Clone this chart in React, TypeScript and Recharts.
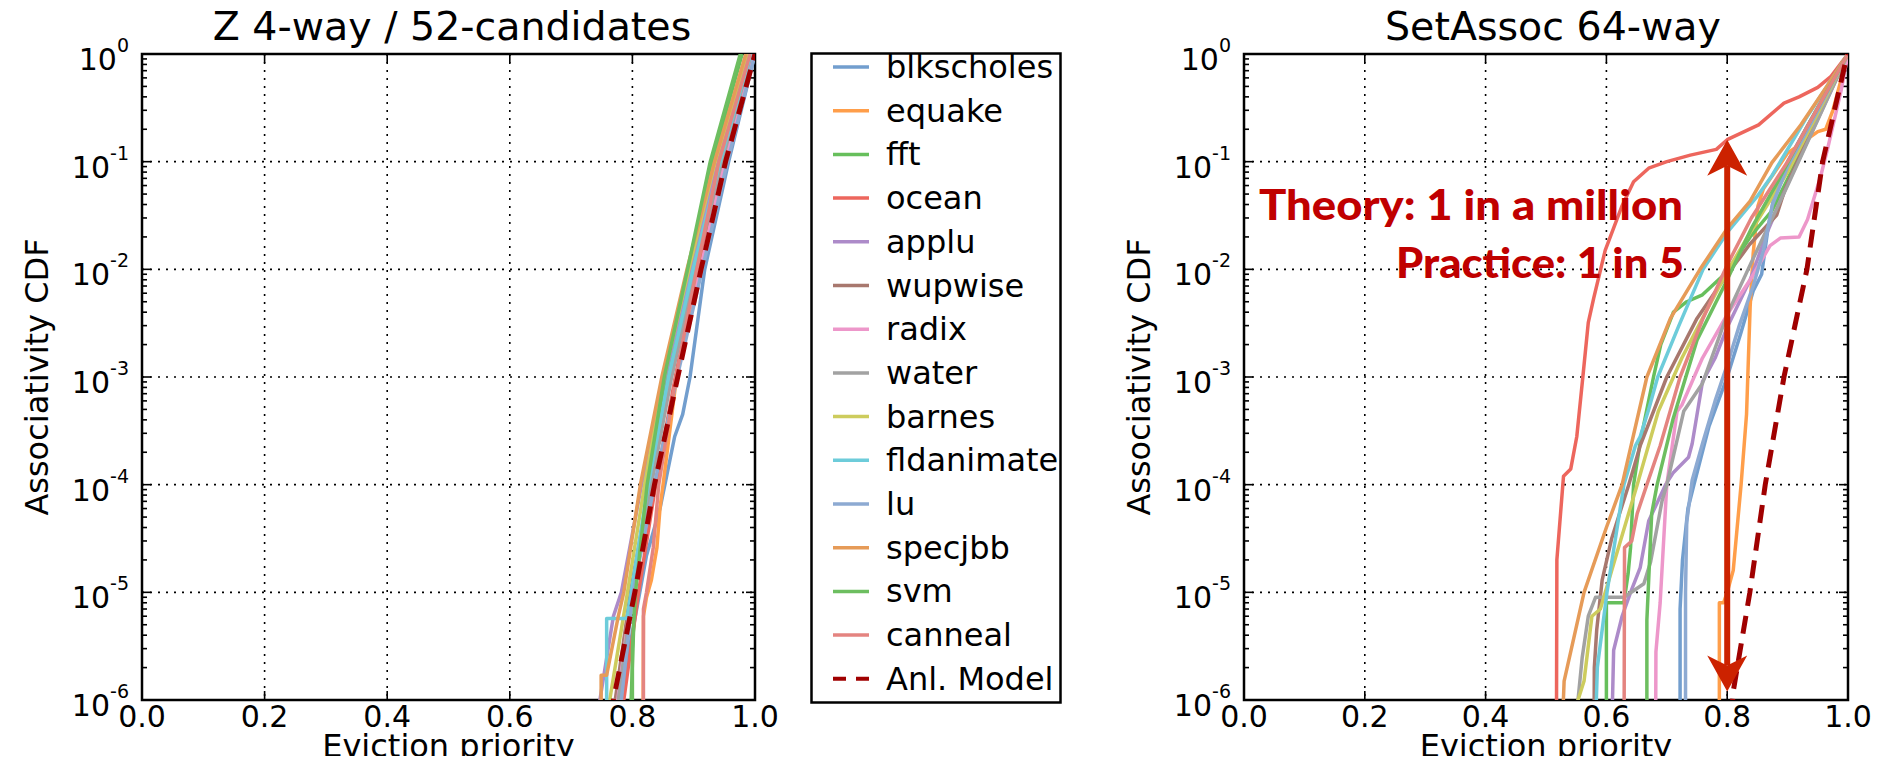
import React from "react";
import { LineChart, Line, XAxis, YAxis, CartesianGrid, ReferenceLine, ReferenceArea } from "recharts";

type Pt = [number, number];

const FONT = "DejaVu Sans";

const BENCHMARKS = [
  "blkscholes", "equake", "fft", "ocean", "applu", "wupwise", "radix",
  "water", "barnes", "fldanimate", "lu", "specjbb", "svm", "canneal",
];
const SERIES_COLORS = [
  "#729ECE", "#FF9E4A", "#67BF5C", "#ED665D", "#AD8BC9", "#A8786E", "#ED97CA",
  "#A2A2A2", "#CDCC5D", "#6DCCDA", "#8DAAD2", "#E69B58", "#6DBE60", "#E48480",
];
const MODEL_NAME = "Anl. Model";
const MODEL_COLOR = "#A00000";

const X_TICKS = [0, 0.2, 0.4, 0.6, 0.8, 1];
const Y_TICKS = [1e-6, 1e-5, 1e-4, 1e-3, 1e-2, 1e-1, 1];

// Z 4-way / 52 candidates: [eviction priority, CDF]
const zBlkscholes: Pt[] = [[0.776, 1e-7], [0.78, 1e-6], [0.795, 3e-6], [0.812, 1e-5], [0.823, 2.2e-5], [0.845, 6e-5], [0.853, 1e-4], [0.869, 2.8e-4], [0.882, 4.5e-4], [0.894, 1e-3], [0.918, 1e-2], [0.957, 1e-1], [1.0, 1]];
const zEquake: Pt[] = [[0.817, 1e-7], [0.818, 6e-6], [0.823, 9e-6], [0.831, 1.3e-5], [0.84, 2.6e-5], [0.845, 6e-5], [0.85, 1e-4], [0.872, 1e-3], [0.907, 1e-2], [0.948, 1e-1], [0.996, 1]];
const zFft: Pt[] = [[0.797, 1e-7], [0.798, 1e-6], [0.804, 1e-5], [0.826, 1e-4], [0.855, 1e-3], [0.893, 1e-2], [0.93, 1e-1], [0.979, 1]];
const zOcean: Pt[] = [[0.783, 1e-7], [0.786, 1e-6], [0.81, 1e-5], [0.838, 1e-4], [0.87, 1e-3], [0.906, 1e-2], [0.945, 1e-1], [0.995, 1]];
const zApplu: Pt[] = [[0.744, 1e-7], [0.747, 1e-6], [0.769, 6e-6], [0.782, 1e-5], [0.815, 1e-4], [0.853, 1e-3], [0.895, 1e-2], [0.94, 1e-1], [0.99, 1]];
const zWupwise: Pt[] = [[0.768, 1e-7], [0.772, 1e-6], [0.797, 1e-5], [0.828, 1e-4], [0.862, 1e-3], [0.902, 1e-2], [0.944, 1e-1], [0.993, 1]];
const zRadix: Pt[] = [[0.772, 1e-7], [0.776, 1e-6], [0.799, 1e-5], [0.83, 1e-4], [0.862, 1e-3], [0.911, 1e-2], [0.95, 1e-1], [0.997, 1]];
const zWater: Pt[] = [[0.774, 1e-7], [0.777, 1e-6], [0.8, 1e-5], [0.831, 1e-4], [0.864, 1e-3], [0.903, 1e-2], [0.946, 1e-1], [0.994, 1]];
const zBarnes: Pt[] = [[0.76, 1e-7], [0.763, 1e-6], [0.792, 1e-5], [0.82, 1e-4], [0.851, 1e-3], [0.892, 1e-2], [0.935, 1e-1], [0.988, 1]];
const zFldanimate: Pt[] = [[0.758, 1e-7], [0.758, 5.7e-6], [0.791, 5.7e-6], [0.798, 1e-5], [0.826, 1e-4], [0.859, 1e-3], [0.899, 1e-2], [0.943, 1e-1], [0.993, 1]];
const zLu: Pt[] = [[0.779, 1e-7], [0.782, 1e-6], [0.801, 1e-5], [0.836, 1e-4], [0.873, 1e-3], [0.914, 1e-2], [0.955, 1e-1], [1.0, 1]];
const zSpecjbb: Pt[] = [[0.749, 1e-7], [0.749, 1.7e-6], [0.758, 1.7e-6], [0.777, 6e-6], [0.786, 1e-5], [0.813, 1e-4], [0.848, 1e-3], [0.889, 1e-2], [0.934, 1e-1], [0.985, 1]];
const zSvm: Pt[] = [[0.8, 1e-7], [0.8, 3e-6], [0.805, 1e-5], [0.824, 1e-4], [0.852, 1e-3], [0.89, 1e-2], [0.927, 1e-1], [0.976, 1]];
const zCanneal: Pt[] = [[0.818, 1e-7], [0.818, 7e-6], [0.823, 1e-5], [0.834, 2.6e-5], [0.843, 1e-4], [0.871, 1e-3], [0.905, 1e-2], [0.941, 1e-1], [0.992, 1]];
const zModel: Pt[] = [[0.765, 7e-7], [0.769, 1e-6], [0.804, 1e-5], [0.836, 1e-4], [0.874, 1e-3], [0.912, 1e-2], [0.952, 1e-1], [1.0, 1]];

// SetAssoc 64-way
const saBlkscholes: Pt[] = [[0.722, 1e-7], [0.722, 7e-6], [0.726, 2e-5], [0.735, 6e-5], [0.745, 1e-4], [0.77, 3.5e-4], [0.8, 1e-3], [0.823, 2.6e-3], [0.843, 6.3e-3], [0.857, 9e-3], [0.868, 2.5e-2], [0.88, 5.6e-2], [0.9, 0.1], [0.95, 0.32], [1.0, 1]];
const saEquake: Pt[] = [[0.787, 1e-7], [0.787, 8e-6], [0.794, 8e-6], [0.8, 1e-5], [0.81, 1.6e-5], [0.823, 1e-4], [0.832, 4.5e-4], [0.838, 4.5e-3], [0.843, 1.4e-2], [0.851, 3.9e-2], [0.86, 5.6e-2], [0.9, 0.12], [0.95, 0.19], [0.963, 0.2], [0.975, 0.3], [1.0, 1]];
const saFft: Pt[] = [[0.6, 1e-7], [0.6, 8e-6], [0.629, 8e-6], [0.636, 1.5e-5], [0.64, 2.6e-5], [0.645, 1e-4], [0.656, 2.5e-4], [0.678, 1e-3], [0.69, 2e-3], [0.711, 4e-3], [0.733, 5e-3], [0.759, 5.8e-3], [0.8, 9.5e-3], [0.838, 2e-2], [0.874, 3.5e-2], [0.93, 0.15], [1.0, 1]];
const saOcean: Pt[] = [[0.517, 1e-7], [0.518, 2e-5], [0.529, 1.2e-4], [0.541, 1.4e-4], [0.551, 2.8e-4], [0.561, 1e-3], [0.57, 3.2e-3], [0.579, 5.4e-3], [0.598, 1.5e-2], [0.626, 3.9e-2], [0.645, 6.5e-2], [0.67, 8.7e-2], [0.7, 0.1], [0.739, 0.115], [0.782, 0.13], [0.8, 0.16], [0.852, 0.22], [0.894, 0.35], [0.919, 0.4], [0.95, 0.49], [0.972, 0.62], [1.0, 1]];
const saApplu: Pt[] = [[0.606, 1e-7], [0.612, 2.9e-6], [0.626, 6e-6], [0.64, 1e-5], [0.656, 1.7e-5], [0.67, 4.6e-5], [0.698, 1e-4], [0.711, 1.3e-4], [0.736, 1.8e-4], [0.742, 2.4e-4], [0.759, 9e-4], [0.78, 1.5e-3], [0.8, 2.9e-3], [0.838, 8e-3], [0.866, 2.2e-2], [0.9, 6.2e-2], [1.0, 1]];
const saWupwise: Pt[] = [[0.579, 1e-7], [0.58, 2e-6], [0.584, 4.5e-6], [0.593, 1.3e-5], [0.609, 3.2e-5], [0.637, 1e-4], [0.656, 2.3e-4], [0.7, 1e-3], [0.75, 3.5e-3], [0.8, 9e-3], [0.82, 1.26e-2], [0.837, 1.7e-2], [0.882, 3.2e-2], [0.896, 5.6e-2], [0.94, 0.2], [1.0, 1]];
const saRadix: Pt[] = [[0.681, 1e-7], [0.682, 2.8e-6], [0.689, 8e-6], [0.7, 1e-4], [0.717, 4.8e-4], [0.725, 5.5e-4], [0.759, 1.5e-3], [0.8, 3.8e-3], [0.838, 8e-3], [0.871, 1.66e-2], [0.888, 1.95e-2], [0.919, 2e-2], [0.933, 2.9e-2], [0.955, 7.4e-2], [0.966, 0.13], [0.989, 0.47], [1.0, 1]];
const saWater: Pt[] = [[0.549, 1e-7], [0.553, 1e-6], [0.56, 2.5e-6], [0.57, 6e-6], [0.582, 9e-6], [0.629, 9e-6], [0.662, 1.2e-5], [0.673, 1.9e-5], [0.692, 7e-5], [0.7, 1e-4], [0.728, 4.8e-4], [0.759, 8.7e-4], [0.8, 3.8e-3], [0.838, 1.1e-2], [0.9, 6e-2], [1.0, 1]];
const saBarnes: Pt[] = [[0.548, 1e-7], [0.553, 1e-6], [0.563, 1.5e-6], [0.576, 6e-6], [0.59, 7e-6], [0.615, 2.1e-5], [0.651, 1e-4], [0.686, 4.8e-4], [0.711, 1e-3], [0.725, 1.5e-3], [0.759, 3.5e-3], [0.8, 9.5e-3], [0.838, 2.2e-2], [0.9, 8e-2], [1.0, 1]];
const saFldanimate: Pt[] = [[0.578, 1e-7], [0.585, 2e-6], [0.601, 1e-5], [0.629, 1e-4], [0.648, 2.3e-4], [0.656, 2.8e-4], [0.67, 5e-4], [0.685, 1e-3], [0.72, 3e-3], [0.76, 1e-2], [0.8, 2.2e-2], [0.849, 4.7e-2], [0.874, 7.4e-2], [0.93, 0.25], [1.0, 1]];
const saLu: Pt[] = [[0.731, 1e-7], [0.731, 1e-5], [0.733, 4.5e-5], [0.742, 1.1e-4], [0.759, 2.4e-4], [0.78, 6e-4], [0.8, 1.3e-3], [0.82, 3e-3], [0.843, 7e-3], [0.86, 1.5e-2], [0.875, 4e-2], [0.9, 9e-2], [1.0, 1]];
const saSpecjbb: Pt[] = [[0.522, 1e-7], [0.53, 1.5e-6], [0.563, 1e-5], [0.6, 4e-5], [0.626, 1e-4], [0.667, 1e-3], [0.706, 3.5e-3], [0.755, 1e-2], [0.8, 2.4e-2], [0.838, 4.3e-2], [0.874, 9.8e-2], [0.922, 0.22], [0.966, 0.51], [1.0, 1]];
const saSvm: Pt[] = [[0.667, 1e-7], [0.667, 5.5e-6], [0.675, 5.4e-5], [0.684, 1e-4], [0.71, 4e-4], [0.75, 2.2e-3], [0.8, 8e-3], [0.84, 2.4e-2], [0.88, 6e-2], [0.93, 0.2], [1.0, 1]];
const saCanneal: Pt[] = [[0.629, 1e-7], [0.63, 2.6e-5], [0.642, 3e-5], [0.651, 5.4e-5], [0.667, 1e-4], [0.689, 2.3e-4], [0.722, 1e-3], [0.76, 3.5e-3], [0.8, 1.1e-2], [0.84, 3e-2], [0.9, 0.1], [1.0, 1]];
const saModel: Pt[] = [[0.807, 7e-7], [0.81, 1.2e-6], [0.8375, 1e-5], [0.863, 1e-4], [0.894, 1e-3], [0.932, 1e-2], [0.958, 1e-1], [0.999, 1]];

const Z_CURVES = [zBlkscholes, zEquake, zFft, zOcean, zApplu, zWupwise, zRadix, zWater, zBarnes, zFldanimate, zLu, zSpecjbb, zSvm, zCanneal];
const SA_CURVES = [saBlkscholes, saEquake, saFft, saOcean, saApplu, saWupwise, saRadix, saWater, saBarnes, saFldanimate, saLu, saSpecjbb, saSvm, saCanneal];

// "1 in 5" arrow: at priority 0.8, from the model's ~1e-6 up to ocean's CDF
const ARROW_X = 0.8;
const ARROW_LOW = 1.2e-6;
const ARROW_HIGH = 0.16;
const ARROW_COLOR = "#CC2200";
const NOTE_COLOR = "#C00000";

const CHART_H = 764;
const PLOT_TOP = 54;
const PLOT_BOTTOM = 700;
const Y_AXIS_W = 130;
const X_AXIS_H = 50;
const PX_PER_DECADE = (PLOT_BOTTOM - PLOT_TOP) / 6;
const MAJOR_LEN = 9;
const MINOR_LEN = 5;

const toRows = (pts: Pt[]) => pts.map(([x, y]) => ({ x, y }));

function PowerTick(props: any) {
  const { x, y, payload } = props;
  const exp = Math.round(Math.log10(payload.value));
  return (
    <text x={x} y={y + 16} textAnchor="end" fontFamily={FONT} fontSize={30} fill="#000">
      10
      <tspan dy={-18} fontSize={19}>{String(exp)}</tspan>
    </text>
  );
}

function DoubleArrow(props: any) {
  const { x1, y1, y2 } = props;
  const top = Math.min(y1, y2);
  const bottom = Math.max(y1, y2);
  const len = 36;
  const half = 20;
  const notch = 10;
  const up = `${x1},${top} ${x1 - half},${top + len} ${x1},${top + len - notch} ${x1 + half},${top + len}`;
  const down = `${x1},${bottom} ${x1 - half},${bottom - len} ${x1},${bottom - len + notch} ${x1 + half},${bottom - len}`;
  return (
    <g>
      <line x1={x1} x2={x1} y1={top + len - notch} y2={bottom - len + notch} stroke={ARROW_COLOR} strokeWidth={6} />
      <polygon points={up} fill={ARROW_COLOR} />
      <polygon points={down} fill={ARROW_COLOR} />
    </g>
  );
}

// inward tick marks on all four sides, log minor ticks on the y sides
function frameTicks(plotW: number) {
  const out: React.ReactElement[] = [];
  const seg = (key: string, ax: number, ay: number, bx: number, by: number) =>
    out.push(
      <ReferenceLine key={key} segment={[{ x: ax, y: ay }, { x: bx, y: by }]} stroke="#000" strokeWidth={1.6} />
    );
  Y_TICKS.forEach((v, i) => {
    const d = MAJOR_LEN / plotW;
    seg(`yl${i}`, 0, v, d, v);
    seg(`yr${i}`, 1 - d, v, 1, v);
  });
  for (let e = -6; e < 0; e++) {
    for (let k = 2; k <= 9; k++) {
      const v = k * Math.pow(10, e);
      const d = MINOR_LEN / plotW;
      seg(`ml${e}_${k}`, 0, v, d, v);
      seg(`mr${e}_${k}`, 1 - d, v, 1, v);
    }
  }
  const up = Math.pow(10, MAJOR_LEN / PX_PER_DECADE);
  X_TICKS.slice(1, -1).forEach((x, i) => {
    seg(`xb${i}`, x, 1e-6, x, 1e-6 * up);
    seg(`xt${i}`, x, 1, x, 1 / up);
  });
  return out;
}

function CdfPanel({ left, width, marginLeft, marginRight, curves, model, arrow }: {
  left: number; width: number; marginLeft: number; marginRight: number;
  curves: Pt[][]; model: Pt[]; arrow?: boolean;
}) {
  const plotW = width - marginLeft - Y_AXIS_W - marginRight;
  return (
    <div style={{ position: "absolute", left, top: 0 }}>
      <LineChart
        width={width}
        height={CHART_H}
        margin={{ top: PLOT_TOP, right: marginRight, bottom: CHART_H - PLOT_BOTTOM - X_AXIS_H, left: marginLeft }}
      >
        <CartesianGrid stroke="#000" strokeWidth={1.6} strokeDasharray="2 6" />
        <XAxis
          dataKey="x"
          type="number"
          domain={[0, 1]}
          ticks={X_TICKS}
          allowDataOverflow
          interval={0}
          height={X_AXIS_H}
          axisLine={false}
          tickLine={false}
          tickSize={0}
          tickMargin={6}
          tickFormatter={(v: number) => v.toFixed(1)}
          tick={{ fill: "#000", fontSize: 30, fontFamily: FONT }}
        />
        <YAxis
          type="number"
          scale="log"
          domain={[1e-6, 1]}
          ticks={Y_TICKS}
          allowDataOverflow
          interval={0}
          width={Y_AXIS_W}
          axisLine={false}
          tickLine={false}
          tickSize={0}
          tickMargin={13}
          tick={(p: any) => <PowerTick {...p} />}
        />
        {frameTicks(plotW)}
        <ReferenceArea x1={0} x2={1} y1={1e-6} y2={1} fill="none" fillOpacity={0} stroke="#000" strokeWidth={2.5} />
        {curves.map((pts, i) => (
          <Line
            key={BENCHMARKS[i]}
            name={BENCHMARKS[i]}
            data={toRows(pts)}
            dataKey="y"
            type="linear"
            stroke={SERIES_COLORS[i]}
            strokeWidth={3.5}
            strokeLinejoin="round"
            dot={false}
            isAnimationActive={false}
          />
        ))}
        <Line
          name={MODEL_NAME}
          data={toRows(model)}
          dataKey="y"
          type="linear"
          stroke={MODEL_COLOR}
          strokeWidth={5}
          strokeDasharray="18 10"
          dot={false}
          isAnimationActive={false}
        />
        {arrow && (
          <ReferenceLine
            segment={[{ x: ARROW_X, y: ARROW_LOW }, { x: ARROW_X, y: ARROW_HIGH }]}
            shape={(p: any) => <DoubleArrow {...p} />}
          />
        )}
      </LineChart>
    </div>
  );
}

function LegendBox() {
  const names = [...BENCHMARKS, MODEL_NAME];
  return (
    <svg width={252} height={652} style={{ position: "absolute", left: 810, top: 52 }}>
      <rect x={1.5} y={1.5} width={249} height={649} fill="#fff" stroke="#000" strokeWidth={2.5} />
      {names.map((n, i) => {
        const cy = 15 + i * 43.7;
        const isModel = i === BENCHMARKS.length;
        return (
          <g key={n}>
            <line
              x1={23}
              x2={59}
              y1={cy}
              y2={cy}
              stroke={isModel ? MODEL_COLOR : SERIES_COLORS[i]}
              strokeWidth={isModel ? 4 : 3.5}
              strokeDasharray={isModel ? "13 10" : undefined}
            />
            <text x={76} y={cy + 11} fontFamily={FONT} fontSize={32} fill="#000">{n}</text>
          </g>
        );
      })}
    </svg>
  );
}

export default function App() {
  return (
    <div style={{ position: "relative", width: 1893, height: 764, margin: -8, background: "#fff", fontFamily: FONT }}>
      <CdfPanel left={0} width={780} marginLeft={12} marginRight={25} curves={Z_CURVES} model={zModel} />
      <CdfPanel left={1100} width={793} marginLeft={14} marginRight={45} curves={SA_CURVES} model={saModel} arrow />
      <LegendBox />
      <svg width={1893} height={764} style={{ position: "absolute", left: 0, top: 0, pointerEvents: "none" }}>
        <g fontFamily={FONT} fill="#000">
          <text x={452} y={40} textAnchor="middle" fontSize={39.5}>Z 4-way / 52-candidates</text>
          <text x={1553} y={40} textAnchor="middle" fontSize={39.5}>SetAssoc 64-way</text>
          <text x={448.5} y={757} textAnchor="middle" fontSize={32}>Eviction priority</text>
          <text x={1546} y={757} textAnchor="middle" fontSize={32}>Eviction priority</text>
          <text transform="translate(48,377) rotate(-90)" textAnchor="middle" fontSize={32}>Associativity CDF</text>
          <text transform="translate(1150,377) rotate(-90)" textAnchor="middle" fontSize={32}>Associativity CDF</text>
        </g>
        <g fontFamily="Lato" fontWeight={900} fill={NOTE_COLOR} fontSize={42}>
          <text x={1259} y={220} textLength={424} lengthAdjust="spacingAndGlyphs">Theory: 1 in a million</text>
          <text x={1396} y={278} textLength={288} lengthAdjust="spacingAndGlyphs">Practice: 1 in 5</text>
        </g>
      </svg>
    </div>
  );
}
